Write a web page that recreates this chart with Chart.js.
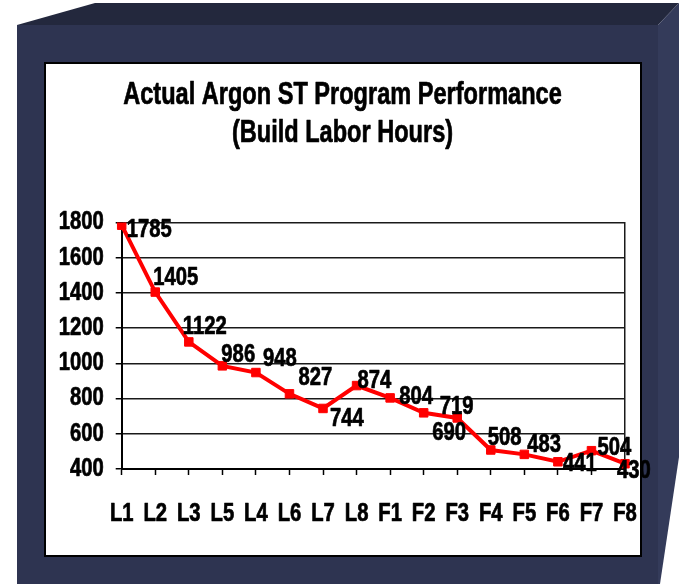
<!DOCTYPE html>
<html>
<head>
<meta charset="utf-8">
<script src="https://cdn.jsdelivr.net/npm/chart.js@4"></script>
<style>
  html, body { margin: 0; padding: 0; background: #ffffff; }
  #wrap { position: relative; width: 679px; height: 584px; overflow: hidden; }
  #frame { position: absolute; left: 0; top: 0; }
  #c { position: absolute; left: 0; top: 0; }
</style>
</head>
<body>
<div id="wrap">
  <svg id="frame" width="679" height="584" xmlns="http://www.w3.org/2000/svg">
    <polygon points="17,25 95,3 679,3 658,25" fill="#23283d"/>
    <polygon points="658,25 679,3 679,457 660,584 658,584" fill="#343b5a"/>
    <rect x="17" y="25" width="641" height="559" fill="#2e3451"/>
    <rect x="45" y="63" width="596" height="493" fill="#ffffff" stroke="#000000" stroke-width="2"/>
  </svg>
  <canvas id="c" width="679" height="584"></canvas>
</div>
<script>
const categories = ['L1','L2','L3','L5','L4','L6','L7','L8','F1','F2','F3','F4','F5','F6','F7','F8'];
const buildLaborHours = [1785,1405,1122,986,948,827,744,874,804,719,690,508,483,441,504,430];
const yTicks = [400,600,800,1000,1200,1400,1600,1800];
const titleLines = ['Actual Argon ST Program Performance','(Build Labor Hours)'];

// label placement relative to each point (dx, dy in px)
const labelOffsets = [[5,5],[-2,-14],[-6,-15],[-1,-11],[7,-13],[9,-16],[7,11],[1,-4],[9,-1],[16,-6],[-25,15],[-3,-12],[3,-9],[5,2],[6,-3],[-8,7]];

const FONT = "'Liberation Sans', Arial, sans-serif";

// condensed, heavy rendering of text (narrow bold face look), still real canvas text
const narrowText = {
  id: 'narrowText',
  beforeInit(chart) {
    const ctx = chart.ctx;
    const baseFill = CanvasRenderingContext2D.prototype.fillText;
    const baseStroke = CanvasRenderingContext2D.prototype.strokeText;
    ctx.fillText = function (t, x, y, maxW) {
      const m = /(\d+(?:\.\d+)?)px/.exec(this.font);
      const size = m ? parseFloat(m[1]) : 12;
      const sx = size >= 28 ? 0.76 : 0.81;
      this.save();
      this.translate(x, y);
      this.scale(sx, 1);
      const mw = maxW !== undefined ? maxW / sx : undefined;
      if (mw !== undefined) baseFill.call(this, t, 0, 0, mw); else baseFill.call(this, t, 0, 0);
      this.strokeStyle = this.fillStyle;
      this.lineWidth = 0.7;
      this.lineJoin = 'round';
      if (mw !== undefined) baseStroke.call(this, t, 0, 0, mw); else baseStroke.call(this, t, 0, 0);
      this.restore();
    };
  }
};

const valueLabels = {
  id: 'valueLabels',
  afterDatasetsDraw(chart) {
    const ctx = chart.ctx;
    const meta = chart.getDatasetMeta(0);
    ctx.save();
    ctx.font = "bold 25px " + FONT;
    ctx.fillStyle = '#000000';
    ctx.textAlign = 'left';
    ctx.textBaseline = 'middle';
    meta.data.forEach((pt, i) => {
      const off = labelOffsets[i] || [5, 0];
      ctx.fillText(String(buildLaborHours[i]), pt.x + off[0], pt.y + off[1]);
    });
    ctx.restore();
  }
};

new Chart(document.getElementById('c'), {
  type: 'line',
  data: {
    labels: categories,
    datasets: [{
      label: 'Build Labor Hours',
      data: buildLaborHours,
      borderColor: '#ff0000',
      backgroundColor: '#ff0000',
      borderWidth: 4,
      tension: 0,
      pointStyle: 'rect',
      pointRadius: 6,
      pointHoverRadius: 6,
      pointBackgroundColor: '#ff0000',
      pointBorderColor: '#ff0000',
      pointBorderWidth: 1,
      fill: false,
      yAxisID: 'y'
    }]
  },
  options: {
    responsive: false,
    animation: false,
    events: [],
    layout: { padding: { left: 40, right: 34, top: 60, bottom: 0 } },
    plugins: {
      legend: { display: false },
      tooltip: { enabled: false },
      title: {
        display: true,
        text: titleLines,
        color: '#000000',
        font: { family: FONT, size: 31, weight: 'bold', lineHeight: 1.235 },
        padding: { top: 16, bottom: 70 }
      }
    },
    scales: {
      x: {
        offset: false,
        afterFit(s) { s.height = 115; },
        grid: {
          drawOnChartArea: false,
          tickColor: '#000000',
          tickLength: 6,
          tickWidth: 1.5
        },
        border: { display: true, color: '#000000', width: 2 },
        ticks: {
          color: '#000000',
          font: { family: FONT, size: 25, weight: 'bold' },
          padding: 24,
          maxRotation: 0,
          autoSkip: false
        }
      },
      y: {
        position: 'left',
        min: 400,
        max: 1800,
        afterFit(s) { s.width = 81.7; },
        afterBuildTicks(s) { s.ticks = yTicks.map(v => ({ value: v })); },
        grid: {
          color: '#1a1a1a',
          lineWidth: 1.5,
          tickColor: '#000000',
          tickLength: 6
        },
        border: { display: true, color: '#000000', width: 2 },
        ticks: {
          color: '#000000',
          font: { family: FONT, size: 25, weight: 'bold' },
          padding: 12,
          callback: (v) => String(v)
        }
      },
      yRight: {
        type: 'linear',
        position: 'right',
        min: 400,
        max: 1800,
        afterFit(s) { s.width = 20; },
        grid: { drawOnChartArea: false, drawTicks: false },
        border: { display: true, color: '#1a1a1a', width: 1.5 },
        ticks: { display: false }
      }
    }
  },
  plugins: [narrowText, valueLabels]
});
</script>
</body>
</html>
